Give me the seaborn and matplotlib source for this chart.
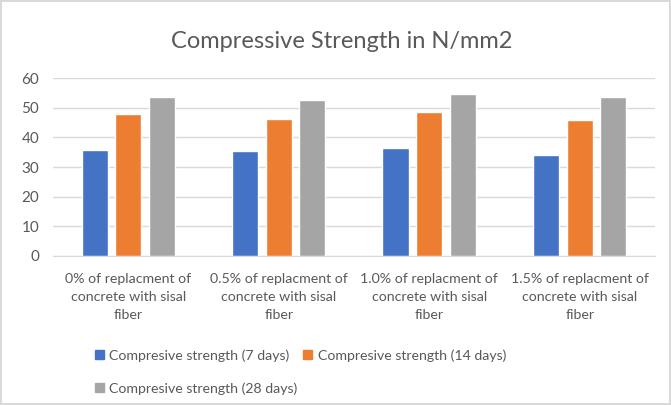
import pandas as pd
import matplotlib.pyplot as plt
import seaborn as sns

categories = ['0% of replacment of\nconcrete with sisal\nfiber',
              '0.5% of replacment of\nconcrete with sisal\nfiber',
              '1.0% of replacment of\nconcrete with sisal\nfiber',
              '1.5% of replacment of\nconcrete with sisal\nfiber']
series = ['Compresive strength (7 days)',
          'Compresive strength (14 days)',
          'Compresive strength (28 days)']
days_7 = [35.8, 35.5, 36.3, 34.0]
days_14 = [47.9, 46.3, 48.5, 46.0]
days_28 = [53.5, 52.7, 54.5, 53.5]
colors = ['#4472C4', '#ED7D31', '#A5A5A5']


def build_frame():
    """long format table for seaborn"""
    rows = []
    for name, vals in zip(series, [days_7, days_14, days_28]):
        for cat, v in zip(categories, vals):
            rows.append({'cat': cat, 'series': name, 'value': v})
    return pd.DataFrame(rows)


def plot_chart(df):
    sns.set_style('white')
    plt.rcParams['font.family'] = ['Lato', 'DejaVu Sans']

    fig = plt.figure(figsize=(6.71, 4.05), dpi=100)
    fig.patch.set_edgecolor('#D9D9D9')
    fig.patch.set_linewidth(1.5)
    ax = fig.add_axes([0.079, 0.368, 0.897, 0.439])

    sns.barplot(data=df, x='cat', y='value', hue='series', palette=colors,
                width=0.67, gap=0.22, ax=ax, legend=False, saturation=1)

    ax.set_ylim(0, 60)
    ax.set_yticks(range(0, 61, 10))
    ax.set_xlim(-0.5, 3.5)
    ax.yaxis.grid(True, color='#D9D9D9', linewidth=1)
    ax.set_axisbelow(True)
    for s in ['top', 'right', 'left']:
        ax.spines[s].set_visible(False)
    ax.spines['bottom'].set_color('#D9D9D9')
    ax.tick_params(axis='y', length=0, labelsize=11, colors='#595959', pad=10)
    ax.tick_params(axis='x', length=0, labelsize=10.2, colors='#595959', pad=12)
    for lbl in ax.get_xticklabels():
        lbl.set_linespacing(1.6)
    ax.set_xlabel('')
    ax.set_ylabel('')
    ax.set_title('Compressive Strength in N/mm2', fontsize=17, color='#595959',
                 pad=22, x=0.48)

    handles = [plt.Rectangle((0, 0), 1, 1, color=c) for c in colors]
    order = [0, 2, 1]
    fig.legend([handles[i] for i in order], [series[i] for i in order],
               loc='upper left', bbox_to_anchor=(0.142, 0.138), ncol=2, frameon=False,
               fontsize=10.2, handlelength=0.6, handleheight=0.6, handletextpad=0.4,
               columnspacing=0.4, labelspacing=1.45, labelcolor='#595959',
               borderaxespad=0, borderpad=0)

    fig.savefig('out.png', dpi=100)


if __name__ == "__main__":
    plot_chart(build_frame())
